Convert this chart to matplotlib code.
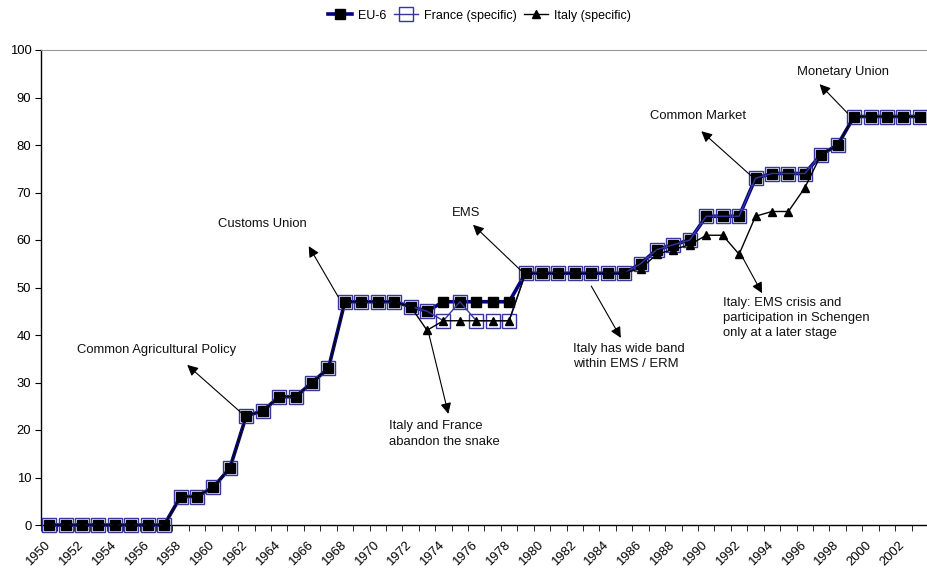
import matplotlib
matplotlib.use('Agg')
import matplotlib.pyplot as plt
import matplotlib.transforms as mtransforms
import numpy as np

# ============================================
#   Integration index EU-6 / France / Italy
# ============================================

plt.rcParams['font.family'] = ['Liberation Sans', 'DejaVu Sans']

years = list(range(1950, 2004))

eu6 = [0, 0, 0, 0, 0, 0, 0, 0,
       6, 6, 8, 12, 23, 24, 27, 27, 30, 33,
       47, 47, 47, 47, 46, 45, 47, 47, 47, 47, 47, 53,
       53, 53, 53, 53, 53, 53, 55, 58, 59, 60,
       65, 65, 65, 73, 74, 74, 74, 78, 80, 86,
       86, 86, 86, 86]

france = [0, 0, 0, 0, 0, 0, 0, 0,
          6, 6, 8, 12, 23, 24, 27, 27, 30, 33,
          47, 47, 47, 47, 46, 45, 43, 47, 43, 43, 43, 53,
          53, 53, 53, 53, 53, 53, 55, 58, 59, 60,
          65, 65, 65, 73, 74, 74, 74, 78, 80, 86,
          86, 86, 86, 86]

italy = [0, 0, 0, 0, 0, 0, 0, 0,
         6, 6, 8, 12, 23, 24, 27, 27, 30, 33,
         47, 47, 47, 47, 46, 41, 43, 43, 43, 43, 43, 53,
         53, 53, 53, 53, 53, 53, 54, 57, 58, 59,
         61, 61, 57, 65, 66, 66, 71, 78, 80, 86,
         86, 86, 86, 86]

tick_labels = [str(y) for y in years[::2]]

# annotations: text, text position, arrow tail, arrow head (category index, value)
notes = [
    ("Common Agricultural Policy", (1.7, 36.8), (11.7, 23.6), (8.4, 33.7), 'center'),
    ("Customs Union", (10.3, 63.4), (17.6, 48.0), (15.8, 58.7), 'center'),
    ("EMS", (24.5, 65.7), (28.8, 53.3), (25.8, 63.2), 'center'),
    ("Italy and France\nabandon the snake", (20.7, 22.0), (23.1, 40.4), (24.3, 23.4), 'top'),
    ("Italy has wide band\nwithin EMS / ERM", (31.9, 38.4), (33.0, 50.3), (34.8, 39.4), 'top'),
    ("Common Market", (36.6, 86.1), (42.8, 73.3), (39.7, 82.9), 'center'),
    ("Italy: EMS crisis and\nparticipation in Schengen\nonly at a later stage",
     (41.0, 48.0), (42.2, 56.4), (43.4, 48.8), 'top'),
    ("Monetary Union", (45.5, 95.4), (48.6, 86.7), (46.9, 92.8), 'center'),
]

FS = 9.4

# ============================================
# Figure
# ============================================
fig = plt.figure(figsize=(9.28, 5.70), dpi=100)
ax = fig.add_axes([41 / 928, 45 / 570, 887 / 928, 475 / 570])

x = np.arange(len(years))

ax.plot(x, eu6, color='#000080', lw=2.6, marker='s', ms=6.8,
        mfc='black', mec='black', label='EU-6', clip_on=False, zorder=3)
ax.plot(x, france, color='#3636A0', lw=1.0, marker='s', ms=10.5,
        mfc='none', mec='#3636A0', mew=1.0, label='France (specific)',
        clip_on=False, zorder=4)
ax.plot(x, italy, color='black', lw=1.0, marker='^', ms=6,
        mfc='black', mec='black', label='Italy (specific)',
        clip_on=False, zorder=5)

for text, txt_pos, tail, head, va in notes:
    ax.annotate('', xy=head, xytext=tail,
                arrowprops=dict(arrowstyle='-|>', color='black', lw=0.8,
                                mutation_scale=16, shrinkA=0, shrinkB=0),
                zorder=6)
    ax.text(txt_pos[0], txt_pos[1], text, ha='left', va=va,
            fontsize=FS, color='#111111', linespacing=1.35, zorder=6)

# axes
ax.set_xlim(-0.5, 52.93)
ax.set_ylim(0, 100)
ax.set_yticks(range(0, 101, 10))
ax.tick_params(axis='y', direction='out', length=4, labelsize=FS, pad=3)

ax.set_xticks(x[::2])
ax.set_xticklabels(tick_labels, rotation=45, ha='right',
                   rotation_mode='anchor', fontsize=FS)
ax.set_xticks(np.arange(-0.5, len(years), 1), minor=True)
ax.tick_params(axis='x', which='major', length=0, pad=10)
ax.tick_params(axis='x', which='minor', direction='out', length=4)

# nudge the rotated year labels a little to the left
shift = mtransforms.ScaledTranslation(-5 / 100, 0, fig.dpi_scale_trans)
for lab in ax.get_xticklabels():
    lab.set_transform(lab.get_transform() + shift)

ax.spines['right'].set_visible(False)
ax.spines['top'].set_color('#999999')
ax.spines['left'].set_linewidth(1.0)
ax.spines['bottom'].set_linewidth(1.0)

fig.legend(loc='upper center', bbox_to_anchor=(0.517, 1.003), ncol=3,
           frameon=False, fontsize=9, handlelength=1.9,
           columnspacing=0.6, handletextpad=0.5)

fig.savefig('out.png', dpi=100)
